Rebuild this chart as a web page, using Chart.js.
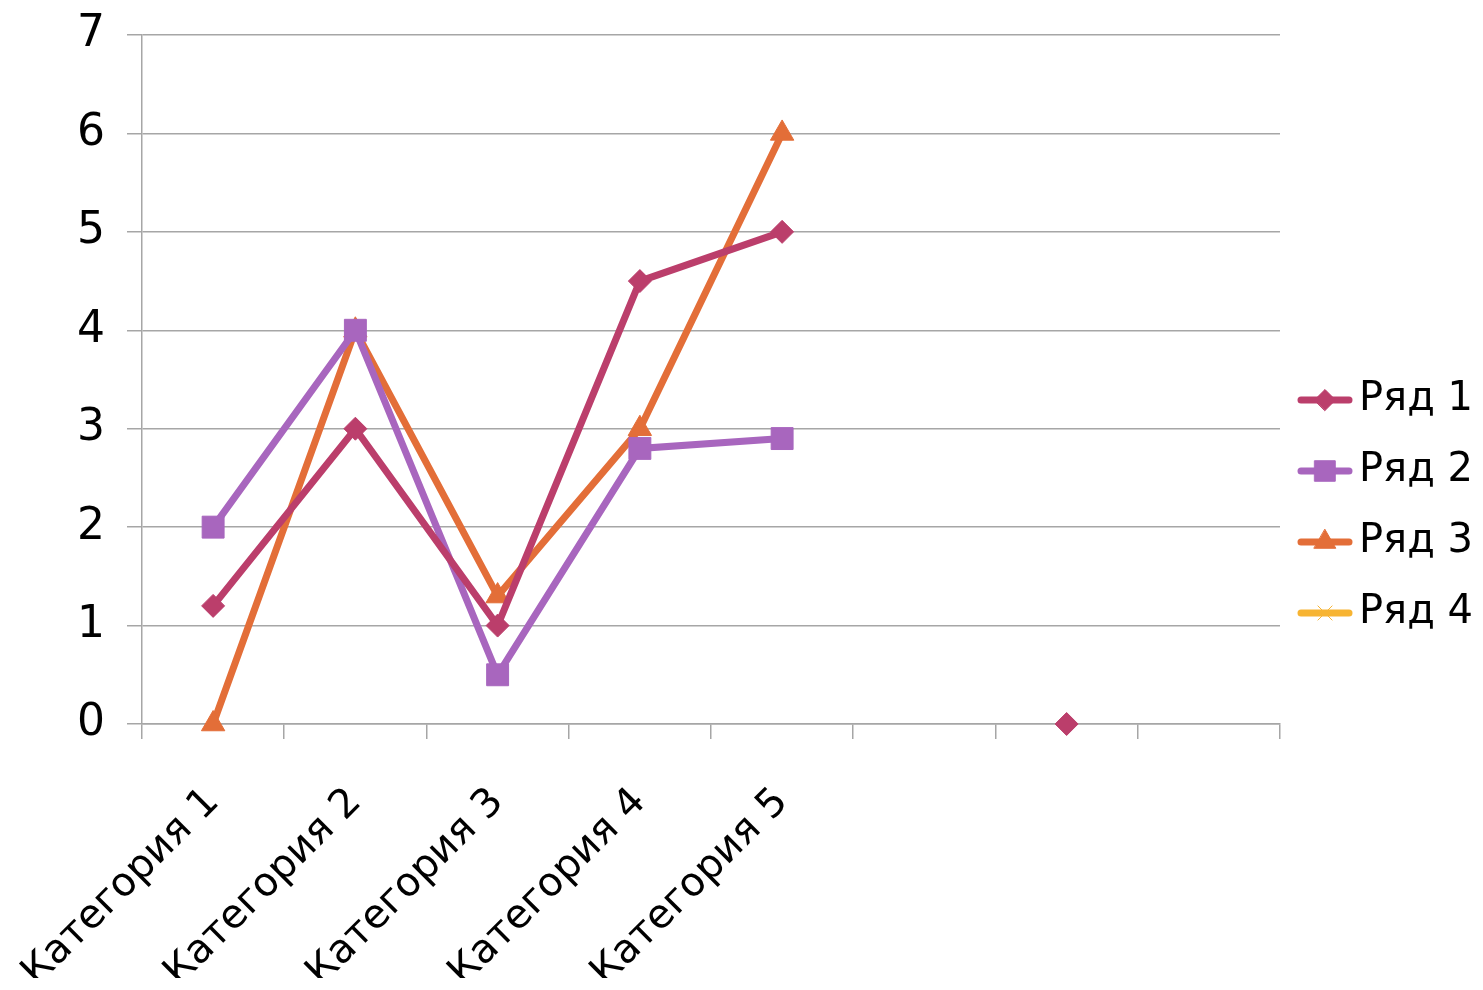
<!DOCTYPE html>
<html><head><meta charset="utf-8">
<script src="https://cdn.jsdelivr.net/npm/chart.js@4/dist/chart.umd.min.js"></script>
<style>html,body{margin:0;padding:0;background:#fff;overflow:hidden}#wrap{width:1483px;height:990px;position:relative}</style>
</head><body><div id="wrap"><canvas id="c"></canvas></div>
<script>
const categories = ['Категория 1','Категория 2','Категория 3','Категория 4','Категория 5','','',''];
const seriesNames = ['Ряд 1','Ряд 2','Ряд 3','Ряд 4'];
const series1 = [1.2, 3, 1, 4.5, 5, null, 0, null];
const series2 = [2, 4, 0.5, 2.8, 2.9, null, null, null];
const series3 = [0, 4, 1.3, 3, 6, null, null, null];
const series4 = [null, null, null, null, null, null, null, null];
const yTicks = [0, 1, 2, 3, 4, 5, 6, 7];

const colors = ['#BB3E6B', '#A866BE', '#E36E38', '#F7B432'];
const markers = ['rectRot', 'rect', 'triangle', 'crossRot'];
const markerRadius = [11.5, 15.5, 13.5, 11];
const allSeries = [series1, series2, series3, series4];
const FONT = "'DejaVu Sans', sans-serif";

function legendImage(i) {
  const cv = document.createElement('canvas');
  cv.width = 58; cv.height = 32;
  const ctx = cv.getContext('2d');
  ctx.strokeStyle = colors[i];
  ctx.lineWidth = 7;
  ctx.lineCap = 'round';
  ctx.beginPath(); ctx.moveTo(5, 16); ctx.lineTo(53, 16); ctx.stroke();
  ctx.fillStyle = colors[i];
  ctx.strokeStyle = colors[i];
  ctx.lineWidth = 1;
  Chart.helpers.drawPoint(ctx, {pointStyle: markers[i], radius: markerRadius[i] - 1, rotation: 0, borderWidth: 1}, 29, 16);
  return cv;
}

const datasets = allSeries.map((d, i) => ({
  label: seriesNames[i],
  data: d,
  borderColor: colors[i],
  backgroundColor: colors[i],
  borderWidth: 7,
  pointStyle: markers[i],
  pointRadius: markerRadius[i],
  pointBackgroundColor: colors[i],
  pointBorderColor: colors[i],
  pointBorderWidth: 1,
  tension: 0,
  spanGaps: false,
  clip: false
}));

new Chart(document.getElementById('c'), {
  type: 'line',
  data: {labels: categories, datasets},
  options: {
    responsive: true,
    maintainAspectRatio: false,
    animation: false,
    devicePixelRatio: 1,
    layout: {padding: {top: 35, left: 0, right: 0, bottom: 12}},
    plugins: {
      tooltip: {enabled: false},
      legend: {
        position: 'right',
        align: 'center',
        labels: {
          usePointStyle: true,
          pointStyleWidth: 28,
          padding: 31,
          color: '#000',
          font: {family: FONT, size: 40},
          generateLabels: (chart) => chart.data.datasets.map((ds, i) => ({
            text: ds.label,
            pointStyle: legendImage(i),
            fillStyle: colors[i],
            strokeStyle: colors[i],
            lineWidth: 0,
            hidden: false,
            datasetIndex: i
          }))
        }
      }
    },
    scales: {
      x: {
        offset: true,
        grid: {offset: true, drawOnChartArea: false, tickLength: 15, color: '#A6A6A6', lineWidth: 1.5},
        border: {color: '#A6A6A6', width: 1.5},
        ticks: {autoSkip: false, maxRotation: 45, minRotation: 45, font: {family: FONT, size: 40}, color: '#000', padding: 40},
        afterFit: (s) => { s.height = 254; s.paddingLeft = 0; s.paddingRight = 0; }
      },
      y: {
        min: 0, max: 7,
        afterBuildTicks: (s) => { s.ticks = yTicks.map(v => ({value: v})); },
        grid: {color: '#A6A6A6', lineWidth: 1.5, tickLength: 15},
        border: {color: '#A6A6A6', width: 1.5},
        ticks: {font: {family: FONT, size: 44}, color: '#000', padding: 22},
        afterFit: (s) => { s.width = 142; s.paddingTop = 0; s.paddingBottom = 0; }
      }
    }
  }
});
</script></body></html>
